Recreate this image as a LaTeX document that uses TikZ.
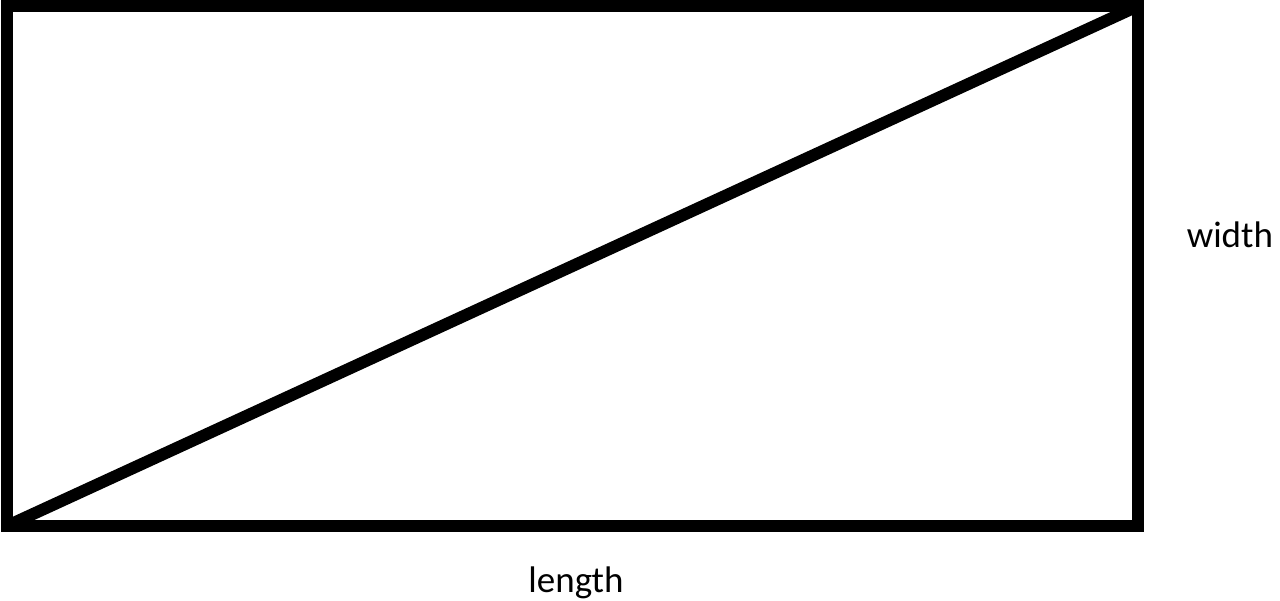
\documentclass[tikz,border=0pt]{standalone}
\usepackage{fontspec}
\setmainfont{Carlito}
\usepackage{tikz}
\tikzset{side/.style={font=\fontsize{18.5}{22}\selectfont, inner sep=0pt}}

\begin{document}
\begin{tikzpicture}[x=0.5pt, y=0.5pt, line width=6pt]
\useasboundingbox (0,0) rectangle (1280,600);
\coordinate (sw) at (7,74);
\coordinate (ne) at (1138,594);
\draw (sw) rectangle (ne);
\draw (sw)--(ne);
\node[side, anchor = base east] (width) at (1279,352) {width};
\node[side, anchor = base] (length) at (576,8) {length};
\end{tikzpicture}
\end{document}
